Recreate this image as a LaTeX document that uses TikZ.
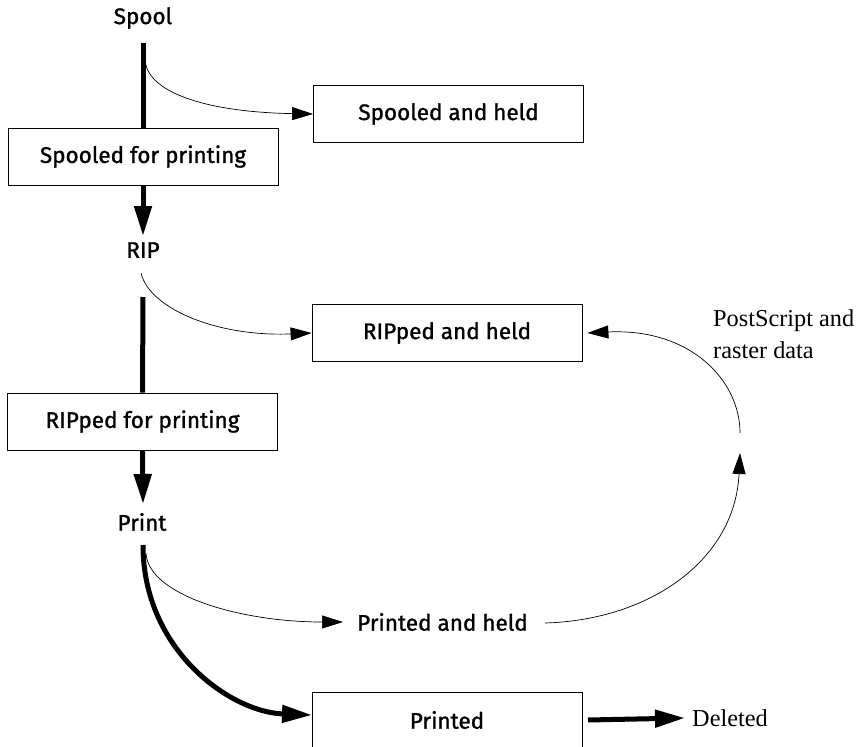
\documentclass[tikz,border=0pt]{standalone}
\usepackage{fontspec}
\setmainfont{Liberation Serif}
\newfontfamily\boxfont{Fira Sans}[FakeBold=1.2]
\usetikzlibrary{arrows.meta}
\tikzset{
  x=1pt, y=-1pt,
  lbl/.style={font=\boxfont\fontsize{22.5}{26}\selectfont, inner sep=0pt},
  box/.style={draw, line width=0.8pt, font=\boxfont\fontsize{22.5}{26}\selectfont, minimum width=270pt, minimum height=57pt, inner sep=0pt},
  serif/.style={font=\rmfamily\fontsize{24.3}{32}\selectfont, inner sep=0pt},
  thick line/.style={line width=5pt},
  thick arrow/.style={line width=5pt, -{Triangle[length=30pt,width=17pt]}},
  thin arrow/.style={line width=0.7pt, -{Triangle[length=21pt,width=13pt]}},
}
\begin{document}
\begin{tikzpicture}
\useasboundingbox (0,0) rectangle (857,747);
% labels
\node[lbl] (spool) at (143,18) {Spool};
\node[lbl] (rip) at (143,250) {RIP};
\node[lbl] (print) at (142,522) {Print};
\node[lbl, anchor=west] (pah) at (357,622) {Printed and held};
\node[serif, anchor=west, align=left] (ps) at (713,334) {PostScript and\\raster data};
\node[serif, anchor=west] (del) at (692,718) {Deleted};
% boxes
\node[box] (sfp) at (143,156.5) {Spooled for printing};
\node[box] (sah) at (448.5,114) {Spooled and held};
\node[box] (rah) at (447,333) {RIPped and held};
\node[box] (rfp) at (142.5,421.5) {RIPped for printing};
\node[lbl, minimum width=270pt] (printed) at (447,720) {Printed};
\draw[line width=0.8pt] (312,760) -- (312,692) -- (582,692) -- (582,760);
% coordinates
\coordinate (s0) at (143,43);
\coordinate (s1) at (145,58);
\coordinate (r0) at (141,273);
\coordinate (r1) at (143,297);
\coordinate (p0) at (143,545);
\coordinate (p1) at (146,553);
\coordinate (pahE) at (545,623);
\coordinate (g1) at (740,453);
\coordinate (g2) at (740,433);
\coordinate (pE) at (588,720);
% connectors
\draw[thick line] (s0) -- (sfp.north);
\draw[thin arrow] (s1) .. controls (145,92) and (205,112) .. (sah.west);
\draw[thick arrow] (sfp.south) -- (143,236);
\draw[thin arrow] (r0) .. controls (150,310) and (220,337) .. (rah.west);
\draw[thick line] (r1) -- (rfp.north);
\draw[thick arrow] (rfp.south) -- (143,504);
\draw[thick arrow] (p0) .. controls (143,650) and (230,712) .. (312,715);
\draw[thin arrow] (p1) .. controls (148,595) and (240,622) .. (343,622);
\draw[thin arrow] (pahE) .. controls (650,620) and (735,560) .. (g1);
\draw[thin arrow] (g2) .. controls (740,380) and (690,328) .. ([xshift=5pt]rah.east);
\draw[thick arrow] (pE) -- ([xshift=-7pt]del.west);
\end{tikzpicture}
\end{document}
